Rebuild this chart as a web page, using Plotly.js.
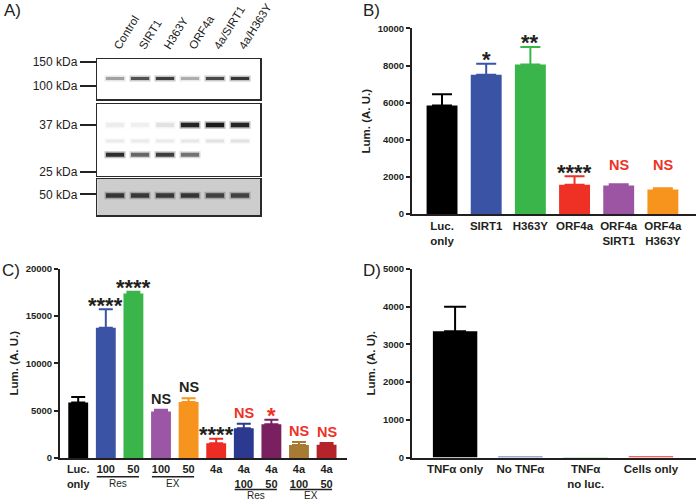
<!DOCTYPE html>
<html>
<head>
<meta charset="utf-8">
<script src="https://cdn.plot.ly/plotly-3.0.1.min.js"></script>
<style>html,body{margin:0;padding:0;background:#fff}#chart{width:696px;height:502px}</style>
</head>
<body>
<div id="chart"></div>
<script>
// ---------- Panel A: western blot (band intensities 0..1, apparent MW in kDa) ----------
const lanes = ['Control', 'SIRT1', 'H363Y', 'ORF4a', '4a/SIRT1', '4a/H363Y'];
const sirt1Band = [0.35, 0.7, 0.8, 0.3, 0.75, 0.85];
const gfpFusionBand = [0.06, 0.05, 0.1, 0.95, 1.0, 0.95];
const nonspecificBand = [0.07, 0.07, 0.07, 0.08, 0.1, 0.1];
const gfpBand = [0.9, 0.6, 0.8, 0.55, 0, 0];
const tubulinBand = [0.8, 0.78, 0.78, 0.8, 0.72, 0.72];
const sirt1KDa = 113, gfpFusionKDa = 37, nonspecificKDa = 32.4, gfpKDa = 28.9, tubulinKDa = 49.5;
const markersTop = [150, 100], markersMid = [37, 25], markersBottom = [50];

// ---------- Panel B ----------
const catsB = ['Luc.<br>only', 'SIRT1', 'H363Y', 'ORF4a', 'ORF4a<br>SIRT1', 'ORF4a<br>H363Y'];
const valB = [5850, 7500, 8050, 1570, 1540, 1320];
const errB = [600, 600, 950, 460, 60, 70];
const sigB = ['', '*', '**', '****', 'NS', 'NS'];
const refB = ['', 'ctrl', 'ctrl', 'ctrl', '4a', '4a'];
const colorsB = ['#000000', '#3a53a4', '#3ab54a', '#ee3124', '#9c55a2', '#f7941d'];

// ---------- Panel C ----------
const tickC = ['Luc.<br>only', '100', '50', '100', '50', '4a', '4a<br>100', '4a<br>50', '4a<br>100', '4a<br>50'];
const valC = [5850, 13750, 17350, 4920, 5900, 1560, 3150, 3570, 1360, 1400];
const errC = [600, 1950, 200, 180, 400, 460, 470, 480, 330, 180];
const sigC = ['', '****', '****', 'NS', 'NS', '****', 'NS', '*', 'NS', 'NS'];
const refC = ['', 'ctrl', 'ctrl', 'ctrl', 'ctrl', 'ctrl', '4a', '4a', '4a', '4a'];
const groupC = ['Res', 'EX', 'Res', 'EX'];
const groupStartC = [1, 3, 6, 8];
const groupEndC = [2, 4, 7, 9];
const colorsC = ['#000000', '#3a53a4', '#39b54a', '#9b57a5', '#f7941d', '#ed2c24', '#2b3990', '#7a1f60', '#a87b34', '#b5232b'];

// ---------- Panel D ----------
const catsD = ['TNFα only', 'No TNFα', 'TNFα<br>no luc.', 'Cells only'];
const valD = [3350, 25, 15, 30];
const errD = [650, 0, 0, 0];
const colorsD = ['#000000', '#3a53a4', '#3ab54a', '#ee3124'];

// ---------- helpers ----------
const W = 696, H = 502;
const px = v => v / W;
const py = v => 1 - v / H;
const FONT = 'Liberation Sans, Arial, sans-serif';
const BLACK = '#231f20';
const RED = '#ee3124';

function bars(xs, vals, errs, colors, xa, ya, width, capw) {
  return xs.map((x, i) => ({
    type: 'bar', x: [x], y: [vals[i]], xaxis: xa, yaxis: ya, width: width,
    marker: {color: colors[i], line: {width: 0}},
    error_y: errs[i] > 0 ? {type: 'data', symmetric: false, array: [errs[i]], arrayminus: [0],
      color: colors[i], thickness: 2, width: capw} : {visible: false},
    hoverinfo: 'skip', showlegend: false
  }));
}

function sigAnnotations(xs, vals, errs, sig, ref, xa, ya, useRefLevel) {
  const out = [];
  const refIdx = ref.indexOf('4a') - 1;
  sig.forEach((s, i) => {
    if (!s) return;
    let top = vals[i] + errs[i];
    if (useRefLevel && ref[i] === '4a' && refIdx >= 0) top = Math.max(top, vals[refIdx] + errs[refIdx]);
    const star = s.indexOf('*') >= 0;
    const fs = star ? 22 : 14.5;
    out.push({
      x: xs[i], y: top, xref: xa, yref: ya, showarrow: false, yanchor: 'middle', xanchor: 'center',
      yshift: star ? 9 - 0.22 * fs : 11,
      text: s, font: {family: FONT, size: fs, weight: 'bold', color: ref[i] === '4a' ? RED : BLACK}
    });
  });
  return out;
}

function bandTraces(vals, kda, xa, ya, thick) {
  return [
    {type: 'scatter', mode: 'markers', x: lanes, y: lanes.map(() => kda), xaxis: xa, yaxis: ya,
      marker: {symbol: 'line-ew', size: 15, line: {width: thick + 3, color: vals.map(v => 'rgba(20,20,20,' + (v * 0.3).toFixed(3) + ')')}},
      hoverinfo: 'skip', showlegend: false},
    {type: 'scatter', mode: 'markers', x: lanes, y: lanes.map(() => kda), xaxis: xa, yaxis: ya,
      marker: {symbol: 'line-ew', size: 13, line: {width: thick, color: vals.map(v => 'rgba(10,10,10,' + (v * 0.9).toFixed(3) + ')')}},
      hoverinfo: 'skip', showlegend: false}
  ];
}

const xC = tickC.map((t, i) => i);

const data = [].concat(
  bars(catsB, valB, errB, colorsB, 'x', 'y', 0.70, 10),
  bars(xC, valC, errC, colorsC, 'x2', 'y2', 0.72, 7),
  bars(catsD, valD, errD, colorsD, 'x3', 'y3', 0.68, 11),
  bandTraces(sirt1Band, sirt1KDa, 'x4', 'y4', 3),
  bandTraces(gfpFusionBand, gfpFusionKDa, 'x5', 'y5', 4.5),
  bandTraces(nonspecificBand, nonspecificKDa, 'x5', 'y5', 3),
  bandTraces(gfpBand, gfpKDa, 'x5', 'y5', 4),
  bandTraces(tubulinBand, tubulinKDa, 'x6', 'y6', 4.5)
);

const tickFontY = {family: FONT, size: 9.5, weight: 'bold', color: BLACK};
const tickFontX = {family: FONT, size: 11.5, weight: 'bold', color: BLACK};
const titleFont = {family: FONT, size: 11.5, weight: 'bold', color: BLACK};

function yAx(domain, range, dtick, title) {
  return {domain: domain, range: range, dtick: dtick, tick0: 0, tickformat: 'd', showgrid: false, zeroline: false,
    showline: true, linewidth: 2, linecolor: BLACK, ticks: 'outside', ticklen: 4, tickwidth: 2, tickcolor: BLACK,
    tickfont: tickFontY, title: {text: title, font: titleFont, standoff: 5}, fixedrange: true};
}
function xAx(domain, range, anchor, extra) {
  return Object.assign({domain: domain, range: range, anchor: anchor, showgrid: false, zeroline: false,
    showline: true, linewidth: 2, linecolor: BLACK, ticks: '', tickfont: tickFontX, fixedrange: true}, extra || {});
}

const blotLine = '#2a2a2a';
const blotFont = {family: FONT, size: 12, color: '#222'};
const laneRange = [-0.71, 5.8];
function blotY(domain, range, vals, anchor) {
  return {domain: domain, type: 'log', range: range.map(Math.log10), anchor: anchor,
    tickvals: vals, ticktext: vals.map(v => v + ' kDa'), ticks: 'outside', ticklen: 16, tickwidth: 2, tickcolor: '#222',
    tickfont: blotFont, showgrid: false, zeroline: false, showline: true, mirror: true, linewidth: 1.5, linecolor: blotLine, fixedrange: true};
}
function blotYRight(overlay, range, vals, names, anchor) {
  return {overlaying: overlay, side: 'right', anchor: anchor, type: 'log', range: range.map(Math.log10),
    tickvals: vals, ticktext: names, ticks: '', tickfont: blotFont, showgrid: false, zeroline: false, showline: false, fixedrange: true};
}
function blotX(domain, anchor, showLabels) {
  return {domain: domain, anchor: anchor, type: 'category', range: laneRange, side: 'top', showticklabels: showLabels,
    tickangle: -58, tickfont: {family: FONT, size: 11.5, color: '#222'}, ticks: '', showgrid: false, zeroline: false,
    showline: true, mirror: true, linewidth: 1.5, linecolor: blotLine, fixedrange: true};
}

const rangeTop = [79.9, 157], rangeMid = [24.3, 43.9], rangeBot = [42.1, 56.8];
const blotDomX = [px(97.3), px(260)];

const layout = {
  width: W, height: H, margin: {l: 0, r: 0, t: 0, b: 0},
  paper_bgcolor: '#ffffff', plot_bgcolor: 'rgba(0,0,0,0)',
  barmode: 'overlay', showlegend: false, font: {family: FONT, color: BLACK},
  // Panel B
  xaxis: xAx([px(412), 1], [-0.68, 5.75], 'y'),
  yaxis: yAx([py(214), py(28.4)], [0, 10000], 2000, 'Lum. (A. U.)'),
  // Panel C
  xaxis2: xAx([px(60), px(347)], [-0.66, 9.74], 'y2', {tickvals: xC, ticktext: tickC, tickfont: Object.assign({}, tickFontX, {size: 11})}),
  yaxis2: Object.assign(yAx([py(458), py(268.5)], [0, 20000], 5000, 'Lum. (A. U.)'), {anchor: 'x2'}),
  // Panel D
  xaxis3: xAx([px(412), 1], [-0.66, 3.69], 'y3'),
  yaxis3: Object.assign(yAx([py(457.5), py(269)], [0, 5000], 1000, 'Lum. (A. U).'), {anchor: 'x3'}),
  // Panel A blot boxes
  xaxis4: blotX(blotDomX, 'y4', true),
  yaxis4: blotY([py(99), py(59)], rangeTop, markersTop, 'x4'),
  xaxis5: Object.assign(blotX(blotDomX, 'y5', false), {matches: 'x4'}),
  yaxis5: blotY([py(175.7), py(104.3)], rangeMid, markersMid, 'x5'),
  xaxis6: Object.assign(blotX(blotDomX, 'y6', false), {matches: 'x4'}),
  yaxis6: blotY([py(215), py(179)], rangeBot, markersBottom, 'x6'),
  yaxis7: blotYRight('y4', rangeTop, [sirt1KDa], ['SIRT1'], 'x4'),
  yaxis8: blotYRight('y5', rangeMid, [gfpFusionKDa, gfpKDa], ['4a-GFP', 'GFP'], 'x5'),
  yaxis9: blotYRight('y6', rangeBot, [tubulinKDa], ['Tubulin'], 'x6'),
  shapes: [
    {type: 'rect', xref: 'x6 domain', yref: 'y6 domain', x0: 0, x1: 1, y0: 0, y1: 1,
      fillcolor: '#cdcdcd', line: {width: 0}, layer: 'below'}
  ],
  annotations: []
};

// Panel C group underlines and labels
groupC.forEach((g, k) => {
  const lower = tickC[groupStartC[k]].indexOf('<br>') >= 0;
  const lineY = lower ? 489.5 : 476.7;
  const textY = lower ? 495.5 : 483.5;
  layout.shapes.push({type: 'line', xref: 'x2', yref: 'paper', x0: groupStartC[k] - 0.33, x1: groupEndC[k] + 0.2,
    y0: py(lineY), y1: py(lineY), line: {color: BLACK, width: 1.5}});
  layout.annotations.push({xref: 'x2', yref: 'paper', x: (groupStartC[k] + groupEndC[k]) / 2 - 0.07, y: py(textY),
    text: g, showarrow: false, xanchor: 'center', yanchor: 'middle', font: {family: FONT, size: 10, color: BLACK}});
});

// significance labels
layout.annotations = layout.annotations.concat(
  sigAnnotations(catsB, valB, errB, sigB, refB, 'x', 'y', true),
  sigAnnotations(xC, valC, errC, sigC, refC, 'x2', 'y2', false)
);

// panel letters
[['A)', 2, 11], ['B)', 361, 11], ['C)', 0, 270], ['D)', 361, 270]].forEach(p => {
  layout.annotations.push({xref: 'paper', yref: 'paper', x: px(p[1]), y: py(p[2]), text: p[0], showarrow: false,
    xanchor: 'left', yanchor: 'middle', font: {family: FONT, size: 17, color: '#222'}});
});

Plotly.newPlot('chart', data, layout, {staticPlot: true, displayModeBar: false});
</script>
</body>
</html>
